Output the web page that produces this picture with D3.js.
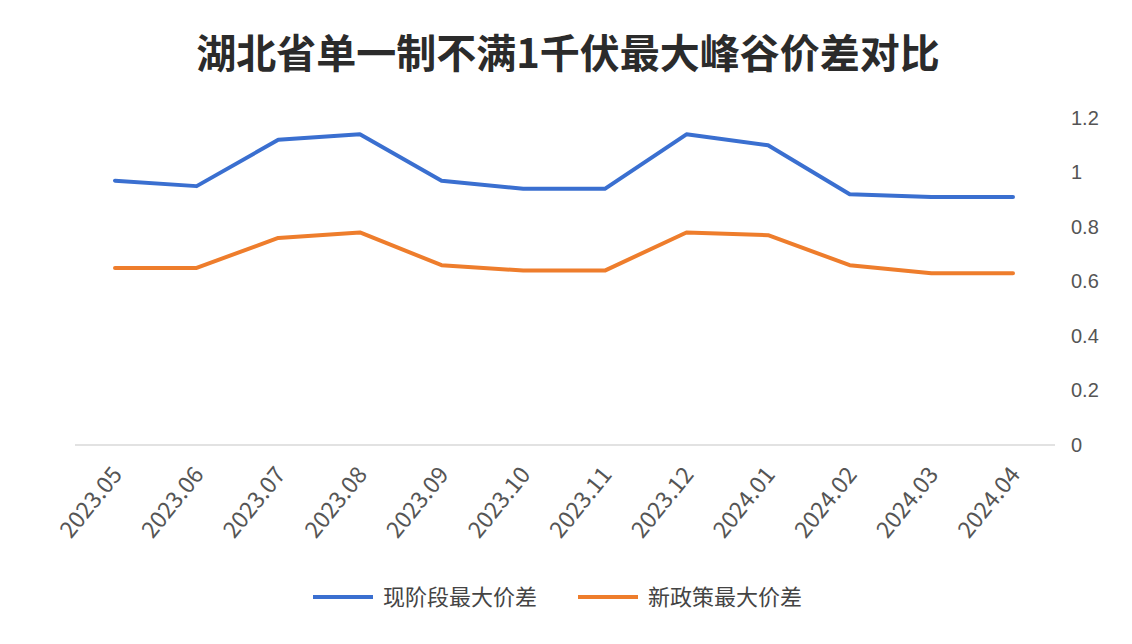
<!DOCTYPE html>
<html><head><meta charset="utf-8">
<script src="https://cdn.jsdelivr.net/npm/d3@7"></script>
<style>body{margin:0;background:#fff}svg{font-family:"Noto Sans CJK SC","Noto Sans",sans-serif}</style>
</head><body><svg id="c" width="1132" height="644"></svg>
<script>
const categories=["2023.05","2023.06","2023.07","2023.08","2023.09","2023.10","2023.11","2023.12","2024.01","2024.02","2024.03","2024.04"];
const seriesNames=["现阶段最大价差","新政策最大价差"];
const current=[0.97,0.95,1.12,1.14,0.97,0.94,0.94,1.14,1.10,0.92,0.91,0.91];
const newPolicy=[0.65,0.65,0.76,0.78,0.66,0.64,0.64,0.78,0.77,0.66,0.63,0.63];
const yTicks=[0,0.2,0.4,0.6,0.8,1,1.2];
const colors=["#3a6fd0","#ee7d2c"];

const svg=d3.select("#c");
svg.append("rect").attr("width",1132).attr("height",644).attr("fill","#fff");
svg.append("text").attr("x",568).attr("y",68).attr("text-anchor","middle")
 .attr("font-size",40).attr("font-weight","bold").attr("fill","#2b2b2b").text("湖北省单一制不满1千伏最大峰谷价差对比");
const x=d3.scalePoint().domain(categories).range([115,1013]);
const y=d3.scaleLinear().domain([0,1.2]).range([445,118]);
svg.append("line").attr("x1",75).attr("x2",1055).attr("y1",y(0)).attr("y2",y(0)).attr("stroke","#d9d9d9").attr("stroke-width",1.5);
const ya=svg.append("g").attr("transform","translate(1065,0)").call(d3.axisRight(y).tickValues(yTicks).tickSize(0).tickFormat(d=>d3.format("~g")(d)));
ya.select(".domain").remove();
ya.selectAll("text").attr("font-size",20).attr("fill","#555").attr("x",6);
categories.forEach(c=>{
 svg.append("text").attr("transform",`translate(${x(c)+2},${470}) rotate(-51)`).attr("text-anchor","end")
  .attr("font-size",23).attr("fill","#555").attr("dy","0.35em").text(c);
});
const line=d3.line().x((d,i)=>x(categories[i])).y(d=>y(d));
[current,newPolicy].forEach((s,k)=>{
 svg.append("path").attr("d",line(s)).attr("fill","none").attr("stroke",colors[k]).attr("stroke-width",4).attr("stroke-linejoin","round").attr("stroke-linecap","round");
});
const lg=[{x:313,tx:383},{x:578,tx:648}];
lg.forEach((p,k)=>{
 svg.append("line").attr("x1",p.x).attr("x2",p.x+60).attr("y1",597).attr("y2",597).attr("stroke",colors[k]).attr("stroke-width",4);
 svg.append("text").attr("x",p.tx).attr("y",597).attr("dy","0.35em").attr("font-size",22).attr("fill","#444").text(seriesNames[k]);
});
</script></body></html>
